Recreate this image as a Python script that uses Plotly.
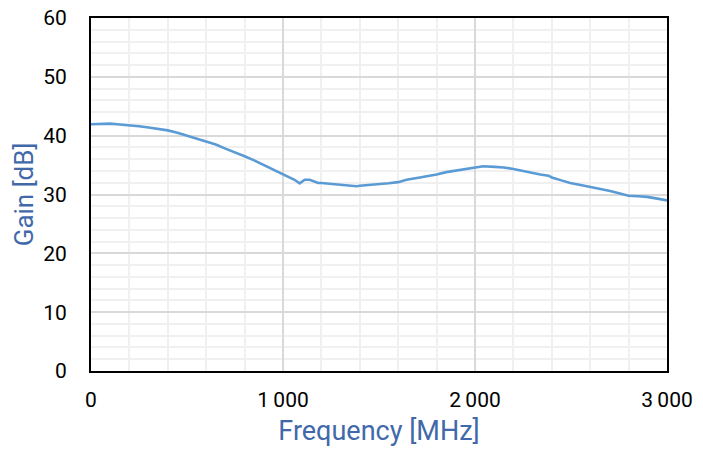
import plotly.graph_objects as go

freq_mhz = [0, 50, 100, 150, 200, 250, 300, 350, 400, 450, 500, 550, 600, 650, 700, 750, 800,
            850, 900, 950, 1000, 1036, 1060, 1087, 1100, 1113, 1139, 1160, 1183, 1200, 1250,
            1296, 1340, 1383, 1400, 1450, 1504, 1550, 1600, 1643, 1713, 1750, 1800, 1850, 1904,
            1950, 2000, 2043, 2104, 2150, 2200, 2250, 2296, 2340, 2383, 2400, 2450, 2496,
            2550, 2600, 2650, 2704, 2750, 2800, 2850, 2896, 2950, 3000]
gain_db = [41.95, 42.0, 42.05, 41.9, 41.8, 41.6, 41.4, 41.2, 40.9, 40.5, 40.0, 39.6, 39.1, 38.5,
           37.8, 37.2, 36.5, 35.8, 35.0, 34.3, 33.4, 32.8, 32.5, 31.9, 32.2, 32.5, 32.5, 32.2,
           31.95, 31.95, 31.8, 31.6, 31.5, 31.4, 31.5, 31.6, 31.8, 31.9, 32.1, 32.5, 32.9, 33.1,
           33.4, 33.8, 34.1, 34.3, 34.6, 34.8, 34.7, 34.6, 34.35, 34.0, 33.7, 33.4, 33.2, 32.9,
           32.4, 31.95, 31.6, 31.3, 31.0, 30.6, 30.2, 29.8, 29.7, 29.6, 29.3, 29.0]

x_tickvals = [0, 1000, 2000, 3000]
x_ticktext = ["0", "1\u2009000", "2\u2009000", "3\u2009000"]
y_tickvals = [0, 10, 20, 30, 40, 50, 60]

fig = go.Figure()
fig.add_trace(go.Scatter(
    x=freq_mhz, y=gain_db, mode="lines",
    line=dict(color="#5B9BD5", width=2.6),
    showlegend=False,
))

font_family = "Roboto, Noto Sans, sans-serif"
fig.update_layout(
    width=703, height=452,
    margin=dict(l=91, r=36, t=18, b=81, autoexpand=False),
    paper_bgcolor="white", plot_bgcolor="white",
    font=dict(family=font_family, size=21, color="black"),
)
fig.update_xaxes(
    range=[0, 3000], tickvals=x_tickvals, ticktext=x_ticktext,
    showgrid=True, gridcolor="#D9D9D9", gridwidth=1.5,
    minor=dict(dtick=200, tick0=0, showgrid=True, gridcolor="#F0F0F0", gridwidth=1.5),
    showline=True, linecolor="black", linewidth=2, mirror=True,
    ticks="", ticklabelstandoff=9, zeroline=False, automargin=False,
    title=dict(text="Frequency [MHz]", font=dict(color="#4169AA", size=27), standoff=10),
)
fig.update_yaxes(
    range=[0, 60], tickvals=y_tickvals,
    showgrid=True, gridcolor="#D9D9D9", gridwidth=1.5,
    minor=dict(dtick=2, tick0=0, showgrid=True, gridcolor="#F0F0F0", gridwidth=1.5),
    showline=True, linecolor="black", linewidth=2, mirror=True,
    ticks="", ticklabelstandoff=18, zeroline=False, automargin=False,
    title=dict(text="Gain [dB]", font=dict(color="#4169AA", size=26), standoff=2),
)
fig.write_html("out.html", config={"displayModeBar": False},
               post_script="document.body.style.margin='0';document.body.style.overflow='hidden';")
